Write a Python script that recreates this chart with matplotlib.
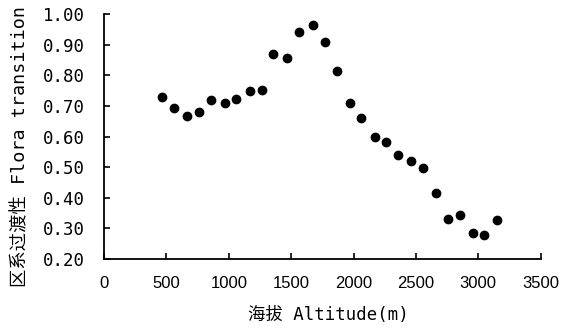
import matplotlib
matplotlib.use("Agg")
import matplotlib.pyplot as plt

# === Dados ===
altitude = [462, 560, 664, 762, 858, 966, 1058, 1168, 1264, 1358,
            1470, 1566, 1672, 1768, 1864, 1970, 2062, 2168, 2264, 2360,
            2464, 2558, 2662, 2754, 2850, 2954, 3048, 3152]
transicao = [0.730, 0.692, 0.666, 0.680, 0.718, 0.711, 0.721, 0.749, 0.752, 0.871,
             0.855, 0.940, 0.964, 0.908, 0.814, 0.710, 0.662, 0.599, 0.582, 0.541,
             0.520, 0.497, 0.417, 0.332, 0.345, 0.286, 0.280, 0.326]
xticks = [0, 500, 1000, 1500, 2000, 2500, 3000, 3500]
yticks = [0.20, 0.30, 0.40, 0.50, 0.60, 0.70, 0.80, 0.90, 1.00]

label_font = ["DejaVu Sans Mono", "Noto Sans CJK SC"]

fig = plt.figure(figsize=(5.76, 3.31), dpi=100)
ax = fig.add_axes([0.1806, 0.2175, 0.7581, 0.7402])

ax.plot(altitude, transicao, "o", color="black", markersize=6)

ax.set_xlim(0, 3500)
ax.set_ylim(0.2, 1.0)
ax.set_xticks(xticks)
ax.set_yticks(yticks)
ax.set_yticklabels([f"{v:.2f}" for v in yticks])

for s in ["top", "right"]:
    ax.spines[s].set_visible(False)
for s in ["left", "bottom"]:
    ax.spines[s].set_linewidth(1.3)
    ax.spines[s].set_color("black")

ax.tick_params(axis="both", direction="in", length=4, width=1.2, colors="black")
ax.tick_params(axis="y", pad=13.5)
ax.tick_params(axis="x", pad=12)
for lab in ax.get_xticklabels():
    lab.set_fontfamily("Liberation Sans")
    lab.set_fontsize(12)
for lab in ax.get_yticklabels():
    lab.set_fontfamily("DejaVu Sans Mono")
    lab.set_fontsize(12.5)

ax.set_xlabel("海拔 Altitude(m)", family=label_font, fontsize=12.5)
ax.set_ylabel("区系过渡性 Flora transition", family=label_font, fontsize=13.2)
ax.xaxis.set_label_coords(0.513, -0.19)
ax.yaxis.set_label_coords(-0.17, 0.46)

fig.savefig("out.png", dpi=100)
